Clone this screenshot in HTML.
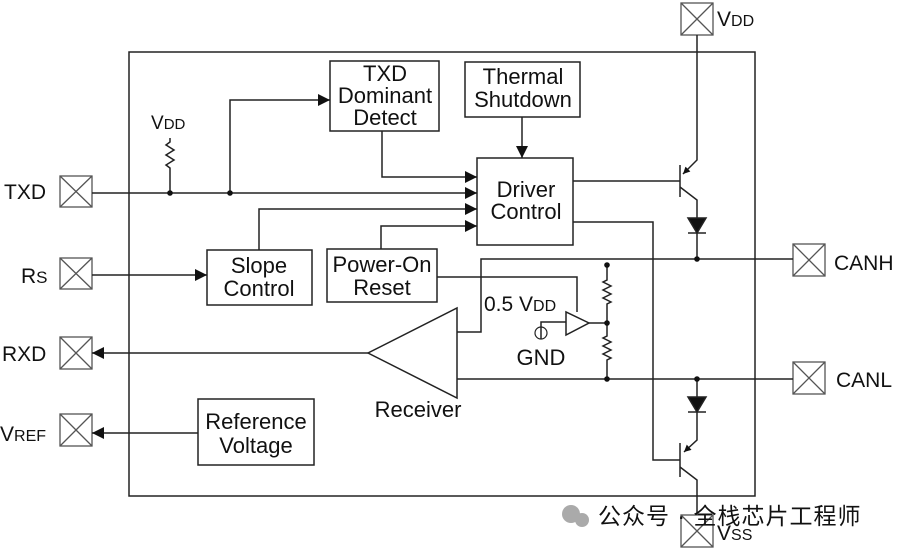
<!DOCTYPE html>
<html><head><meta charset="utf-8"><style>
body{margin:0;background:#fff}
svg{display:block}
text{font-family:"Liberation Sans",sans-serif;fill:#111}
</style></head><body>
<svg width="901" height="551" viewBox="0 0 901 551" xmlns="http://www.w3.org/2000/svg">
<defs>
<marker id="a" viewBox="0 0 10 10" refX="10" refY="5" markerWidth="9" markerHeight="7" markerUnits="userSpaceOnUse" orient="auto"><path d="M0,0L10,5L0,10z" fill="#111"/></marker>
<marker id="b" viewBox="0 0 10 10" refX="10" refY="5" markerWidth="18" markerHeight="12" markerUnits="userSpaceOnUse" orient="auto"><path d="M0,0L10,5L0,10z" fill="#111"/></marker>
</defs>
<g stroke="#222" stroke-width="1.5" fill="none">
<rect x="129" y="52" width="626" height="444"/>
<g stroke="#555" stroke-width="1.3">
<rect x="60" y="176" width="32" height="31"/><path d="M60,176L92,207M92,176L60,207"/>
<rect x="60" y="258" width="32" height="31"/><path d="M60,258L92,289M92,258L60,289"/>
<rect x="60" y="337" width="32" height="32"/><path d="M60,337L92,369M92,337L60,369"/>
<rect x="60" y="414" width="32" height="32"/><path d="M60,414L92,446M92,414L60,446"/>
<rect x="793" y="244" width="32" height="32"/><path d="M793,244L825,276M825,244L793,276"/>
<rect x="793" y="362" width="32" height="32"/><path d="M793,362L825,394M825,362L793,394"/>
<rect x="681" y="3" width="32" height="32"/><path d="M681,3L713,35M713,3L681,35"/>
<rect x="681" y="515" width="32" height="32"/><path d="M681,515L713,547M713,515L681,547"/>
</g>
<rect x="330" y="61" width="109" height="70"/>
<rect x="465" y="62" width="115" height="55"/>
<rect x="477" y="158" width="96" height="87"/>
<rect x="207" y="250" width="105" height="55"/>
<rect x="327" y="249" width="110" height="53"/>
<rect x="198" y="399" width="116" height="66"/>
<path d="M92,193H477" marker-end="url(#b)"/>
<path d="M170,193V168l-4,-3 8,-5 -8,-5 8,-5 -8,-5 4,-3V138"/>
<path d="M230,193V100H330" marker-end="url(#b)"/>
<path d="M382,131V177H477" marker-end="url(#b)"/>
<path d="M522,117V158" marker-end="url(#b)"/>
<path d="M259,250V209H477" marker-end="url(#b)"/>
<path d="M381,249V226H477" marker-end="url(#b)"/>
<path d="M92,275H207" marker-end="url(#b)"/>
<path d="M368,353H92" marker-end="url(#b)"/>
<path d="M198,433H92" marker-end="url(#b)"/>
<path d="M457,308V398L368,353Z"/>
<path d="M457,332H481V259H793"/>
<path d="M457,379H793"/>
<path d="M437,277H577V312"/>
<path d="M566,312V335L589,323Z"/>
<path d="M541,339V322H566"/>
<circle cx="541" cy="333" r="6" stroke-width="1.2"/>
<path d="M589,323H607"/>
<path d="M607,265V280l-4,2 8,4 -8,4 8,4 -8,4 8,4 -4,2V323V336l-4,2 8,4 -8,4 8,4 -8,4 8,4 -4,2V379"/>
<path d="M573,181H680M680,165V197"/>
<path d="M697,35V160L683,174" marker-end="url(#a)"/>
<path d="M680,187L697,200V259"/>
<path d="M688,218H706L697,233Z" fill="#111"/><path d="M688,233H706"/>
<path d="M573,222H653V460H680M680,443V477"/>
<path d="M697,379V440L684,452" marker-end="url(#a)"/>
<path d="M680,467L697,480V515"/>
<path d="M688,397H706L697,412Z" fill="#111"/><path d="M688,412H706"/>
</g>
<g fill="#111">
<circle cx="170" cy="193" r="2.8"/><circle cx="230" cy="193" r="2.8"/>
<circle cx="697" cy="259" r="2.8"/><circle cx="607" cy="265" r="2.8"/>
<circle cx="607" cy="323" r="2.8"/><circle cx="607" cy="379" r="2.8"/>
<circle cx="697" cy="379" r="2.8"/>
</g>
<g font-size="21">
<text x="4" y="199">TXD</text>
<text x="21" y="283">R<tspan font-size="17">S</tspan></text>
<text x="2" y="361">RXD</text>
<text x="0" y="441">V<tspan font-size="16">REF</tspan></text>
<text x="834" y="270">CANH</text>
<text x="836" y="387">CANL</text>
<text x="717" y="26">V<tspan font-size="16">DD</tspan></text>
<text x="717" y="540">V<tspan font-size="16">SS</tspan></text>
<text x="151" y="129" font-size="19">V<tspan font-size="15">DD</tspan></text>
<g text-anchor="middle" font-size="22">
<text x="385" y="81">TXD</text><text x="385" y="103">Dominant</text><text x="385" y="125">Detect</text>
<text x="523" y="84">Thermal</text><text x="523" y="107">Shutdown</text>
<text x="526" y="197">Driver</text><text x="526" y="219">Control</text>
<text x="259" y="273">Slope</text><text x="259" y="296">Control</text>
<text x="382" y="272">Power-On</text><text x="382" y="295">Reset</text>
<text x="256" y="429">Reference</text><text x="256" y="453">Voltage</text>
<text x="418" y="417">Receiver</text>
<text x="541" y="365">GND</text>
</g>
<text x="484" y="311">0.5 V<tspan font-size="16">DD</tspan></text>
</g>
<g fill="#aaa">
<circle cx="571" cy="514" r="9"/><circle cx="582" cy="520" r="7"/>
<text x="598" y="524" font-size="23" letter-spacing="1" fill="#aaa" font-family="'Liberation Sans','Noto Sans CJK SC',sans-serif">公众号 · 全栈芯片工程师</text>
</g>
</svg>
</body></html>
